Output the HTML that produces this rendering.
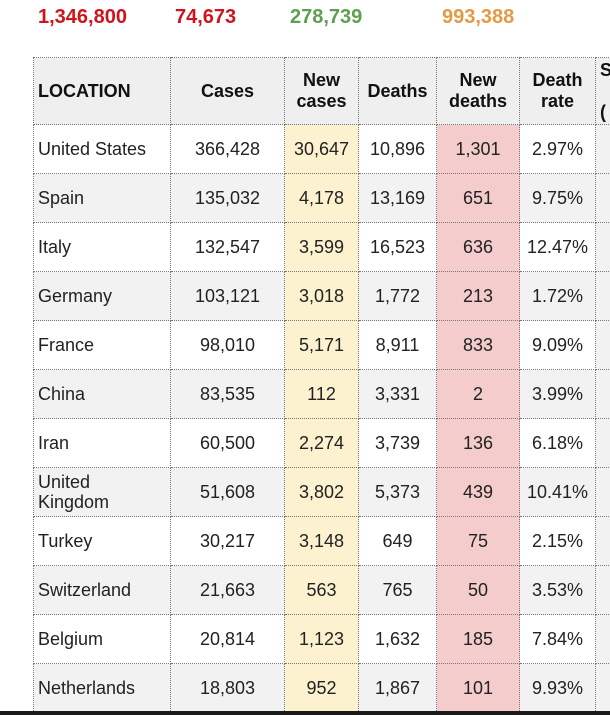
<!DOCTYPE html>
<html><head><meta charset="utf-8"><style>
html,body{margin:0;padding:0}
body{width:610px;height:715px;overflow:hidden;background:#fff;font-family:"Liberation Sans",Arial,sans-serif;position:relative}
.top{position:absolute;top:6px;font-size:20px;font-weight:bold}
table{position:absolute;left:33px;top:57px;border-collapse:collapse;table-layout:fixed;width:607px}
td{border:1px dotted #777;text-align:center;vertical-align:middle;color:#222;font-size:18px;height:48px;padding:0;line-height:20px}
tr.h td{font-weight:bold;color:#111;background:#efefef;height:66px;line-height:21px}
td.l{text-align:left;padding-left:4px}
tr.g td{background:#f2f2f2}
td.y,tr.g td.y{background:#fdf2cf}
td.p,tr.g td.p{background:#f4cccc}
td.e{background:#f2f2f2}
.bar{position:absolute;left:0;top:711px;width:610px;height:4px;background:#1a1a1a}
</style></head><body>
<div class="top" style="left:38px;color:#d0141c">1,346,800</div>
<div class="top" style="left:175px;color:#d0141c">74,673</div>
<div class="top" style="left:290px;color:#5ea04f">278,739</div>
<div class="top" style="left:442px;color:#e39a44">993,388</div>
<table>
<colgroup><col style="width:137px"><col style="width:114px"><col style="width:74px"><col style="width:78px"><col style="width:83px"><col style="width:76px"><col style="width:45px"></colgroup>
<tr class="h"><td class="l">LOCATION</td><td>Cases</td><td>New<br>cases</td><td>Deaths</td><td>New<br>deaths</td><td>Death<br>rate</td><td class="l">S<br><br>(</td></tr>
<tr><td class="l">United States</td><td>366,428</td><td class="y">30,647</td><td>10,896</td><td class="p">1,301</td><td>2.97%</td><td class="e"></td></tr>
<tr class="g"><td class="l">Spain</td><td>135,032</td><td class="y">4,178</td><td>13,169</td><td class="p">651</td><td>9.75%</td><td class="e"></td></tr>
<tr><td class="l">Italy</td><td>132,547</td><td class="y">3,599</td><td>16,523</td><td class="p">636</td><td>12.47%</td><td class="e"></td></tr>
<tr class="g"><td class="l">Germany</td><td>103,121</td><td class="y">3,018</td><td>1,772</td><td class="p">213</td><td>1.72%</td><td class="e"></td></tr>
<tr><td class="l">France</td><td>98,010</td><td class="y">5,171</td><td>8,911</td><td class="p">833</td><td>9.09%</td><td class="e"></td></tr>
<tr class="g"><td class="l">China</td><td>83,535</td><td class="y">112</td><td>3,331</td><td class="p">2</td><td>3.99%</td><td class="e"></td></tr>
<tr><td class="l">Iran</td><td>60,500</td><td class="y">2,274</td><td>3,739</td><td class="p">136</td><td>6.18%</td><td class="e"></td></tr>
<tr class="g"><td class="l">United<br>Kingdom</td><td>51,608</td><td class="y">3,802</td><td>5,373</td><td class="p">439</td><td>10.41%</td><td class="e"></td></tr>
<tr><td class="l">Turkey</td><td>30,217</td><td class="y">3,148</td><td>649</td><td class="p">75</td><td>2.15%</td><td class="e"></td></tr>
<tr class="g"><td class="l">Switzerland</td><td>21,663</td><td class="y">563</td><td>765</td><td class="p">50</td><td>3.53%</td><td class="e"></td></tr>
<tr><td class="l">Belgium</td><td>20,814</td><td class="y">1,123</td><td>1,632</td><td class="p">185</td><td>7.84%</td><td class="e"></td></tr>
<tr class="g"><td class="l">Netherlands</td><td>18,803</td><td class="y">952</td><td>1,867</td><td class="p">101</td><td>9.93%</td><td class="e"></td></tr>
</table>
<div class="bar"></div>
</body></html>
